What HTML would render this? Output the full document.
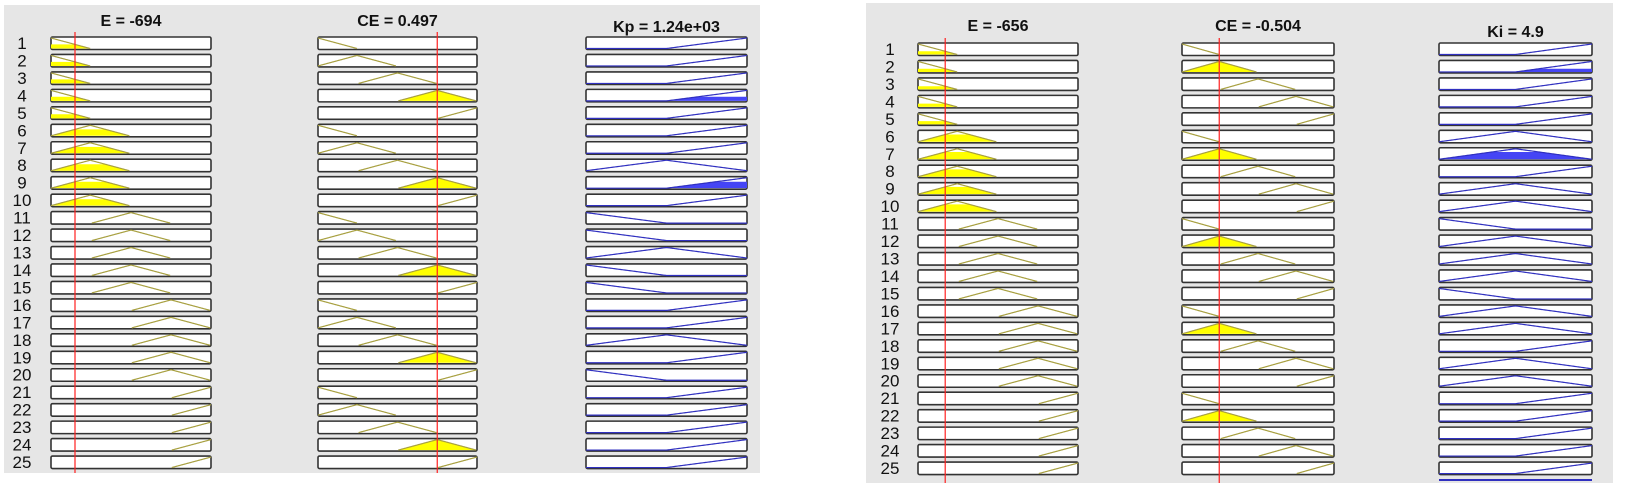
<!DOCTYPE html>
<html><head><meta charset="utf-8"><style>
body{margin:0;background:#fff;width:1646px;height:483px;overflow:hidden}
svg{display:block}
text{font-family:"Liberation Sans",sans-serif;fill:#111}
</style></head><body>
<svg id="chart" width="1646" height="483" xmlns="http://www.w3.org/2000/svg">
<rect x="4" y="5" width="756" height="468" fill="#e6e6e6"/>
<rect x="866" y="3" width="747" height="480" fill="#e6e6e6"/>
<g id="content"></g>
</svg>
<script>
// rule antecedents / consequents (MF index per rule)
const ruleE  = [0,0,0,0,0,1,1,1,1,1,2,2,2,2,2,3,3,3,3,3,4,4,4,4,4];
const ruleCE = [0,1,2,3,4,0,1,2,3,4,0,1,2,3,4,0,1,2,3,4,0,1,2,3,4];
const kpOut  = [2,2,2,2,2,2,2,1,2,2,0,0,1,0,0,2,2,1,2,0,2,2,2,2,2];
const kiOut  = [2,2,2,2,2,1,1,2,1,1,0,1,1,1,0,1,1,2,1,1,2,2,2,2,2];
// input MF centers (normalised), half width
const inCenters = [0,0.245,0.5,0.75,1];
const inHalf = 0.245;
// normalised input values
const leftInputs  = [0.15, 0.75];
const rightInputs = [0.17, 0.245];
const titlesLeft  = ["E = -694","CE = 0.497","Kp = 1.24e+03"];
const titlesRight = ["E = -656","CE = -0.504","Ki = 4.9"];

const NS="http://www.w3.org/2000/svg";
const g=document.getElementById('content');
function mk(t,a,p){const e=document.createElementNS(NS,t);for(const k in a)e.setAttribute(k,a[k]);(p||g).appendChild(e);return e;}
function inMF(i,x){let c=inCenters[i];let v=1-Math.abs(x-c)/inHalf;if(i===0&&x<0)v=1;if(i===4&&x>1)v=1;return Math.max(0,Math.min(1,v));}
function outMF(i,x){if(i===0)return Math.max(0,1-x/0.5);if(i===1)return Math.max(0,1-Math.abs(x-0.5)/0.5);return Math.max(0,(x-0.5)/0.5);}

function panel(p){
  const lab=p.labels;
  p.titles.forEach((t,k)=>{
    const tx=mk('text',{x:p.cols[k][0]+p.cols[k][1]/2,y:p.titleY[k],'text-anchor':'middle','font-size':'16','font-weight':'bold'});
    
    
    tx.textContent=t;
  });
  for(let r=0;r<25;r++){
    const y=p.top+r*17.46, h=12.5;
    const t=mk('text',{x:lab,y:y+12,'text-anchor':'middle','font-size':'17'});
    
    
    t.textContent=r+1;
    const degs=[inMF(ruleE[r],p.inputs[0]),inMF(ruleCE[r],p.inputs[1])];
    const fire=Math.min(degs[0],degs[1]);
    p.cols.forEach((c,k)=>{
      const [x0,w]=c;
      const b=mk('rect',{x:x0,y:y,width:w,height:h,fill:'#fff',stroke:'#333','stroke-width':1.6,rx:1.5});
      
      
      const f=(x)=>k===0?inMF(ruleE[r],x):k===1?inMF(ruleCE[r],x):outMF(p.out[r],x);
      const lvl=k<2?degs[k]:fire;
      const X=v=>x0+v*w, Y=v=>y+h-1-v*(h-2);
      if(lvl>0){
        let pts=[];for(let i=0;i<=200;i++){const v=i/200;pts.push(X(v)+','+Y(Math.min(f(v),lvl)));}
        pts.push(X(1)+','+Y(0));pts.unshift(X(0)+','+Y(0));
        const fp=mk('polygon',{points:pts.join(' '),fill:k<2?'#ffff00':'#4545f5',stroke:'none'});
        
        
      }
      let pts=[];for(let i=0;i<=200;i++){const v=i/200;const m=f(v);if(k<2&&m<=0&&!(i>0&&f((i-1)/200)>0)&&!(i<200&&f((i+1)/200)>0))continue;pts.push(X(v)+','+Y(m));}
      const ln=mk('polyline',{points:pts.join(' '),fill:'none',stroke:k<2?'#a8a040':'#3030c0','stroke-width':1.2});
      
      
    });
  }
  p.inputs.forEach((v,k)=>{
    const c=p.cols[k];
    const l=mk('line',{x1:c[0]+v*c[1],x2:c[0]+v*c[1],y1:p.redTop,y2:p.redBot,stroke:'#ff2020','stroke-width':1.2});
    
    
  });
}
panel({labels:22,top:37,cols:[[51,160],[318,159],[586,161]],titles:titlesLeft,titleY:[26,26,32],inputs:leftInputs,out:kpOut,redTop:32,redBot:473});
panel({labels:890,top:43,cols:[[918,160],[1182,152],[1439,153]],titles:titlesRight,titleY:[31,31,37],inputs:rightInputs,out:kiOut,redTop:38,redBot:483});
const agg=mk('line',{x1:1439,x2:1592,y1:480,y2:480,stroke:'#3030c0','stroke-width':2});


</script>
</body></html>
